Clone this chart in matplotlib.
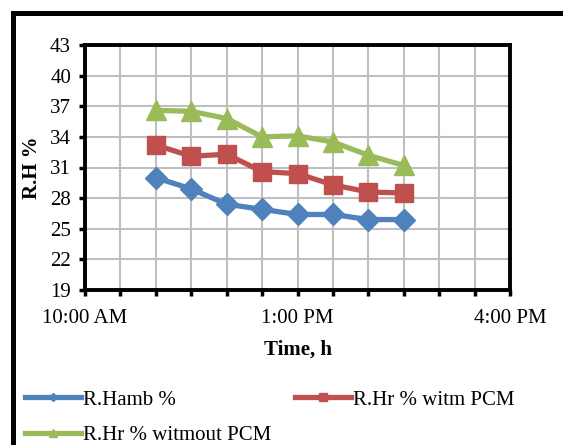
import matplotlib.pyplot as plt
from matplotlib.ticker import FixedLocator, FixedFormatter, MultipleLocator
from matplotlib.patches import Rectangle

plt.rcParams['font.family'] = ['Liberation Serif', 'DejaVu Serif']

# time in hours (11:00 .. 14:30)
hours = [11.0, 11.5, 12.0, 12.5, 13.0, 13.5, 14.0, 14.5]
rh_amb = [30.0, 28.9, 27.4, 26.9, 26.4, 26.4, 25.9, 25.9]
rh_pcm = [33.2, 32.1, 32.3, 30.6, 30.4, 29.3, 28.6, 28.5]
rh_nopcm = [36.6, 36.5, 35.8, 34.0, 34.1, 33.5, 32.2, 31.2]

tick_hours = [10, 13, 16]
tick_labels = ['10:00 AM', '1:00 PM', '4:00 PM']
y_ticks = list(range(19, 44, 3))

fig = plt.figure(figsize=(5.63, 4.45), dpi=100)
ax = fig.add_axes([85/563, 1 - 290/445, (510 - 85)/563, (290 - 45)/445])

ax.plot(hours, rh_amb, color='#4F81BD', lw=3.8, marker='D', ms=11, label='R.Hamb %')
ax.plot(hours, rh_pcm, color='#C0504D', lw=3.8, marker='s', ms=13, label='R.Hr % witm PCM')
ax.plot(hours, rh_nopcm, color='#9BBB59', lw=3.8, marker='^', ms=14, label='R.Hr % witmout PCM')

ax.set_xlim(10, 16)
ax.set_ylim(19, 43)
ax.xaxis.set_major_locator(FixedLocator(tick_hours))
ax.xaxis.set_major_formatter(FixedFormatter(tick_labels))
ax.xaxis.set_minor_locator(MultipleLocator(0.5))
ax.set_yticks(y_ticks)

ax.grid(True, which='both', axis='x', color='#BFBFBF', lw=1.5)
ax.grid(True, which='major', axis='y', color='#BFBFBF', lw=1.5)
ax.set_axisbelow(True)

ax.tick_params(axis='both', which='both', direction='out', length=4, width=2.5, labelsize=15)
ax.tick_params(axis='y', pad=6)
ax.tick_params(axis='x', which='major', pad=10)
for s in ax.spines.values():
    s.set_linewidth(2.8)
    s.set_color('black')

ax.set_xlabel('Time, h', fontsize=15, fontweight='bold', labelpad=8)
ax.set_ylabel('R.H %', fontsize=15, fontweight='bold', labelpad=6)

h, l = ax.get_legend_handles_labels()
# column-wise fill: col 1 -> amb, no PCM ; col 2 -> with PCM
fig.legend([h[0], h[2], h[1]], [l[0], l[2], l[1]], ncol=2, loc='upper left',
           bbox_to_anchor=(25/563, 1 - 390/445), frameon=False, fontsize=15,
           markerscale=0.4, handlelength=2.7, handletextpad=0.1,
           columnspacing=1.1, labelspacing=0.75, borderaxespad=0, borderpad=0)

# outer frame (image is cropped at right and bottom)
fig.patches.append(Rectangle((13/563, -0.1), 1.2, 1 - 13/445 + 0.1,
                             transform=fig.transFigure, fill=False,
                             edgecolor='black', lw=3.6, zorder=10))

fig.savefig('out.png', dpi=100)
